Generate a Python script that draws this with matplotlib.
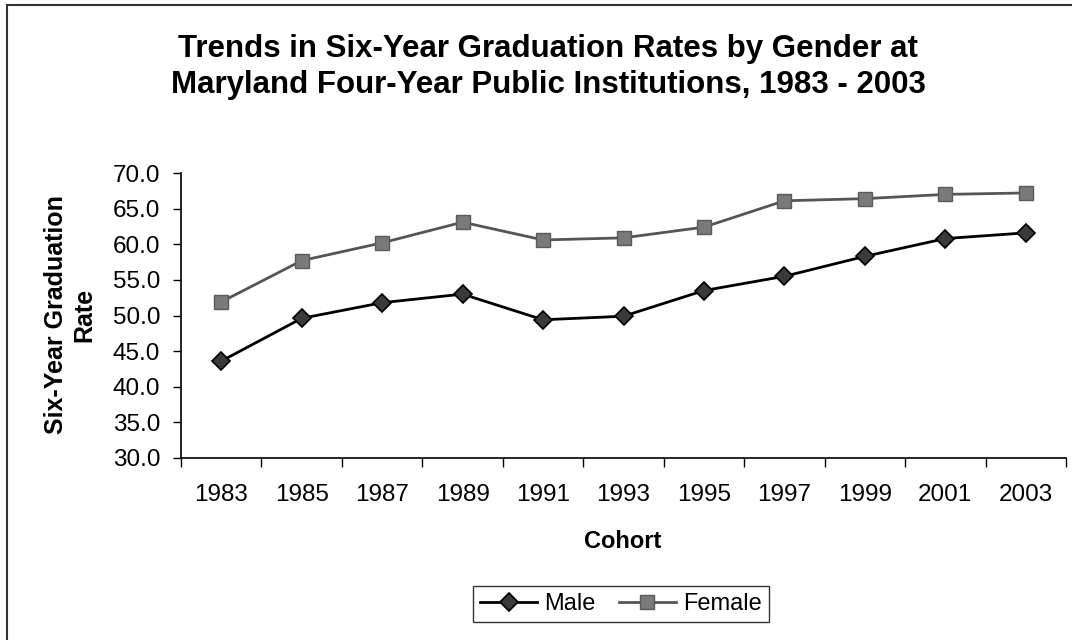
import matplotlib
matplotlib.use('Agg')
import matplotlib.pyplot as plt
from matplotlib.lines import Line2D
import numpy as np

# ── Data ─────────────────────────────────────────────────────────────────────
cohorts = ['1983', '1985', '1987', '1989', '1991', '1993',
           '1995', '1997', '1999', '2001', '2003']
male = [43.6, 49.6, 51.8, 53.0, 49.4, 49.9, 53.5, 55.5, 58.3, 60.8, 61.6]
female = [51.9, 57.7, 60.2, 63.1, 60.6, 60.9, 62.4, 66.1, 66.4, 67.0, 67.2]
y_ticks = [30, 35, 40, 45, 50, 55, 60, 65, 70]

plt.rcParams['font.family'] = ['Liberation Sans', 'DejaVu Sans']

W, H = 1072, 640
fig = plt.figure(figsize=(W / 100, H / 100), dpi=100)
ax = fig.add_axes([181 / W, 1 - 458 / H, (1066 - 181) / W, (458 - 173) / H])

x = np.arange(len(cohorts))
ax.plot(x, male, color='black', lw=2, marker='D', ms=9,
        mfc='#3a3a3a', mec='black', mew=1.2, label='Male')
ax.plot(x, female, color='#555555', lw=2, marker='s', ms=10,
        mfc='#7a7a7a', mec='#5a5a5a', mew=1.0, label='Female')

ax.set_xlim(-0.5, len(cohorts) - 0.5)
ax.set_ylim(30, 70)
ax.set_yticks(y_ticks)
ax.set_yticklabels([f'{v:.1f}' for v in y_ticks])

# ticks between categories, labels at category centres
ax.set_xticks(np.arange(-0.5, len(cohorts), 1.0))
ax.set_xticklabels([])
ax.set_xticks(x, minor=True)
ax.set_xticklabels(cohorts, minor=True)
ax.tick_params(axis='x', which='major', length=6.5, width=1, direction='out')
ax.tick_params(axis='x', which='minor', length=0, pad=19, labelsize=17.5)
ax.tick_params(axis='y', length=6, width=1, direction='out', pad=9, labelsize=17.5)

for s in ['top', 'right']:
    ax.spines[s].set_visible(False)
for s in ['left', 'bottom']:
    ax.spines[s].set_linewidth(1.2)

# ── Text ─────────────────────────────────────────────────────────────────────
fig.text(548 / W, 1 - 67 / H,
         'Trends in Six-Year Graduation Rates by Gender at\n'
         'Maryland Four-Year Public Institutions, 1983 - 2003',
         ha='center', va='center', fontsize=22.5, fontweight='bold',
         linespacing=1.25)
fig.text(623 / W, 1 - 541 / H, 'Cohort', ha='center', va='center',
         fontsize=17, fontweight='bold')
fig.text(70 / W, 1 - 315 / H, 'Six-Year Graduation\nRate', ha='center',
         va='center', rotation=90, fontsize=18, fontweight='bold',
         linespacing=1.25)

leg = fig.legend(loc='center', bbox_to_anchor=(621 / W, 1 - 604 / H),
                 ncol=2, fontsize=17, frameon=True, fancybox=False,
                 edgecolor='black', handlelength=2.4, columnspacing=1.0,
                 handletextpad=0.3, borderpad=0.3, borderaxespad=0)
leg.get_frame().set_linewidth(1.0)

# outer chart border (left and top edges visible in the scan)
fig.add_artist(Line2D([7 / W, 7 / W], [0, 1 - 5 / H], color='#333333',
                      lw=1.5, transform=fig.transFigure))
fig.add_artist(Line2D([7 / W, 1], [1 - 5 / H, 1 - 5 / H], color='#333333',
                      lw=1.5, transform=fig.transFigure))

fig.savefig('out.png', dpi=100)
